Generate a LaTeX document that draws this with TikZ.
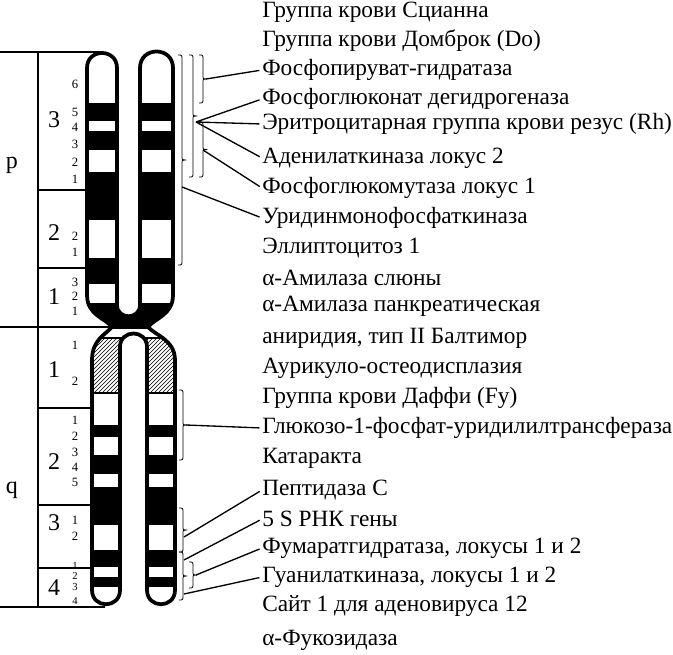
\documentclass[tikz,border=0pt]{standalone}
\usepackage{fontspec}
\setmainfont{Liberation Serif}
\usetikzlibrary{patterns}
\begin{document}
\begin{tikzpicture}[x=0.75pt,y=-0.75pt,
  tab/.style={line width=1.5pt},
  outl/.style={line width=2.8pt,line join=round},
  brk/.style={line width=0.6pt},
  con/.style={line width=1pt,shorten >=2pt},
  lbl/.style={anchor=west,inner sep=0pt,font=\fontsize{17.5}{18}\selectfont},
  big/.style={inner sep=0pt,font=\fontsize{18}{18}\selectfont},
  sm/.style={inner sep=0pt,font=\fontsize{9.5}{10}\selectfont}]
\useasboundingbox (0,0) rectangle (673,655);
% table
\draw[tab] (0,52) -- (100,52);
\draw[tab] (38,52) -- (38,607);
\draw[tab] (38,190) -- (87,190);
\draw[tab] (38,268) -- (88,268);
\draw[tab] (0,327) -- (112,327);
\draw[tab] (38,408) -- (92,408);
\draw[tab] (38,505) -- (92,505);
\draw[tab] (38,568) -- (93,568);
\draw[tab] (0,607) -- (105,607);
\node[big] (p) at (12,165) {p};
\node[big] (q) at (12,490) {q};
\node[big] (p3) at (54,120) {3};
\node[big] (p2) at (54,233) {2};
\node[big] (p1) at (54,297) {1};
\node[big] (q1) at (54,370) {1};
\node[big] (q2) at (54,462) {2};
\node[big] (q3) at (54,523) {3};
\node[big] (q4) at (54,588) {4};
\foreach \t/\y in {6/84,5/112,4/127,3/144,2/162,1/179,2/236,1/252,3/282,2/296,1/311,1/345,2/381,1/420,2/436,3/452,4/467,5/482,1/520,2/536}
  \node[sm] at (75,\y) {\t};
\foreach \t/\y in {1/566,2/576,3/587,4/601}
  \node[sm,font=\fontsize{8}{8}\selectfont] at (75,\y) {\t};
% p arm
\def\parm{(87,295) -- (87,68) .. controls (87,48) and (117,48) .. (117,68) -- (117,305)
  .. controls (117,320) and (140,320) .. (140,305) -- (140,68) .. controls (140,46) and (173,46) .. (173,68)
  -- (173,295) .. controls (173,315) and (155,318) .. (148,327) -- (112,327) .. controls (105,318) and (87,315) .. (87,295) -- cycle}
\begin{scope}
\clip \parm;
\foreach \a/\b in {103/121,131/150,172/220,258/284,303/330}
  \fill (80,\a) rectangle (180,\b);
\end{scope}
\draw[outl] \parm;
% q arm
\def\qarm{(112,327) -- (148,327) .. controls (155,335) and (175,340) .. (175,360) -- (175,590)
  .. controls (175,609) and (147,609) .. (147,590) -- (147,347) .. controls (147,329) and (120,329) .. (120,347)
  -- (120,590) .. controls (120,609) and (92,609) .. (92,590) -- (92,360) .. controls (92,340) and (105,335) .. (112,327) -- cycle}
\begin{scope}
\clip \qarm;
\fill[pattern=north east lines] (80,338) rectangle (180,393);
\draw[line width=1pt] (80,338) -- (180,338) (80,393) -- (180,393);
\foreach \a/\b in {425/437,455/474,487/525,550/567,577/587}
  \fill (80,\a) rectangle (180,\b);
\end{scope}
\draw[outl] \qarm;
% brackets
\newcommand\brc[3]{\draw[brk] ({#1-4},#2) .. controls (#1,#2) .. (#1,{#2+5}) -- (#1,{(#2+#3)/2-4})
  .. controls (#1,{(#2+#3)/2}) .. ({#1+3},{(#2+#3)/2}) .. controls (#1,{(#2+#3)/2}) .. (#1,{(#2+#3)/2+4})
  -- (#1,{#3-5}) .. controls (#1,#3) .. ({#1-4},#3);}
\brc{182}{55}{265}
\brc{193}{55}{177}
\brc{203}{55}{103}
\brc{203}{122}{177}
\brc{183}{390}{460}
\brc{183}{508}{552}
\brc{183}{552}{600}
\brc{193}{562}{588}
\coordinate (bA) at (182,187);
\coordinate (bB) at (196,122);
\coordinate (bC) at (206,79);
\coordinate (bD) at (203,150);
\coordinate (bE) at (186,425);
\coordinate (bF) at (184,537);
\coordinate (bG) at (184,560);
\coordinate (bH) at (196,575);
\coordinate (bI) at (184,594);
% labels
\foreach \n/\y/\t in {
 l1/12/{Группа крови Сцианна},
 l2/41/{Группа крови Домброк (Do)},
 l3/70/{Фосфопируват-гидратаза},
 l4/99/{Фосфоглюконат дегидрогеназа},
 l5/124/{Эритроцитарная группа крови резус (Rh)},
 l6/158/{Аденилаткиназа локус 2},
 l7/188/{Фосфоглюкомутаза локус 1},
 l8/218/{Уридинмонофосфаткиназа},
 l9/248/{Эллиптоцитоз 1},
 l10/278/{α-Амилаза слюны},
 l11/306/{α-Амилаза панкреатическая},
 l12/338/{аниридия, тип II Балтимор},
 l13/368/{Аурикуло-остеодисплазия},
 l14/398/{Группа крови Даффи (Fy)},
 l15/428/{Глюкозо-1-фосфат-уридилилтрансфераза},
 l16/458/{Катаракта},
 l17/490/{Пептидаза С},
 l18/519/{5 S РНК гены},
 l19/548/{Фумаратгидратаза, локусы 1 и 2},
 l20/577/{Гуанилаткиназа, локусы 1 и 2},
 l21/606/{Сайт 1 для аденовируса 12},
 l22/640/{α-Фукозидаза}}
 \node[lbl] (\n) at (262,\y) {\t};
\draw[con] (bC) -- (l3.west);
\draw[con] (bB) -- (l4.west);
\draw[con] (bB) -- (l5.west);
\draw[con] (bB) -- (l6.west);
\draw[con] (bD) -- (l7.west);
\draw[con] (bA) -- (l8.west);
\draw[con] (bE) -- (l15.west);
\draw[con] (bF) -- (l17.west);
\draw[con] (bG) -- (l18.west);
\draw[con] (bH) -- (l19.west);
\draw[con] (bI) -- (l20.west);
\end{tikzpicture}
\end{document}
